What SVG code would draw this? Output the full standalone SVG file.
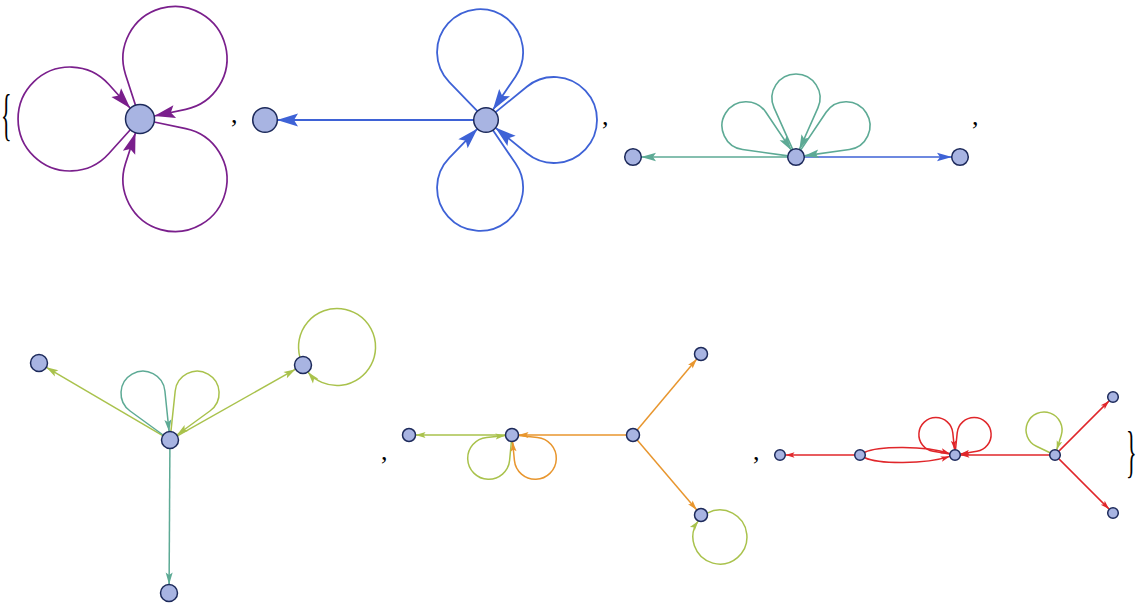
<svg xmlns="http://www.w3.org/2000/svg" width="1140" height="610" viewBox="0 0 1140 610">
<style>
.n{fill:#A8B4E2;stroke:#1D2A5B;stroke-width:1.5}
.e{fill:none}
.pu{stroke:#7A1F8C;stroke-width:1.7}
.bl{stroke:#3E62D6;stroke-width:1.8}
.bl3{stroke:#3E62D6;stroke-width:1.6}
.te3{stroke:#5DAA95;stroke-width:1.6}
.te{stroke:#5DAA95;stroke-width:1.5}
.yg{stroke:#A9C24C;stroke-width:1.5}
.or{stroke:#E8962E;stroke-width:1.5}
.rd{stroke:#E0262A;stroke-width:1.5}
.t{font-family:"Liberation Serif","Times New Roman",serif;fill:#000}
</style>
<defs>
<marker id="aPu" viewBox="-22 -7 23 14" refX="0" refY="0" markerWidth="23" markerHeight="14" markerUnits="userSpaceOnUse" orient="auto"><path d="M0,0 L-21,-6.5 L-17,0 L-21,6.5 Z" fill="#7A1F8C"/></marker>
<marker id="aBl" viewBox="-22 -7 23 14" refX="0" refY="0" markerWidth="23" markerHeight="14" markerUnits="userSpaceOnUse" orient="auto"><path d="M0,0 L-21,-6.5 L-17,0 L-21,6.5 Z" fill="#3E62D6"/></marker>
<marker id="aTe3" viewBox="-16 -5 17 10" refX="0" refY="0" markerWidth="17" markerHeight="10" markerUnits="userSpaceOnUse" orient="auto"><path d="M0,0 L-15,-4.3 L-12,0 L-15,4.3 Z" fill="#5DAA95"/></marker>
<marker id="aBl3" viewBox="-16 -5 17 10" refX="0" refY="0" markerWidth="17" markerHeight="10" markerUnits="userSpaceOnUse" orient="auto"><path d="M0,0 L-15,-4.3 L-12,0 L-15,4.3 Z" fill="#3E62D6"/></marker>
<marker id="aTe4" viewBox="-13 -4 14 8" refX="0" refY="0" markerWidth="14" markerHeight="8" markerUnits="userSpaceOnUse" orient="auto"><path d="M0,0 L-12,-3.5 L-9.5,0 L-12,3.5 Z" fill="#5DAA95"/></marker>
<marker id="aYg4" viewBox="-13 -4 14 8" refX="0" refY="0" markerWidth="14" markerHeight="8" markerUnits="userSpaceOnUse" orient="auto"><path d="M0,0 L-12,-3.5 L-9.5,0 L-12,3.5 Z" fill="#A9C24C"/></marker>
<marker id="aYg5" viewBox="-11 -4 12 8" refX="0" refY="0" markerWidth="12" markerHeight="8" markerUnits="userSpaceOnUse" orient="auto"><path d="M0,0 L-10,-3 L-8,0 L-10,3 Z" fill="#A9C24C"/></marker>
<marker id="aOr5" viewBox="-11 -4 12 8" refX="0" refY="0" markerWidth="12" markerHeight="8" markerUnits="userSpaceOnUse" orient="auto"><path d="M0,0 L-10,-3 L-8,0 L-10,3 Z" fill="#E8962E"/></marker>
<marker id="aRd6" viewBox="-10 -3 11 6" refX="0" refY="0" markerWidth="11" markerHeight="6" markerUnits="userSpaceOnUse" orient="auto"><path d="M0,0 L-9,-2.8 L-7,0 L-9,2.8 Z" fill="#E0262A"/></marker>
<marker id="aYg6" viewBox="-10 -3 11 6" refX="0" refY="0" markerWidth="11" markerHeight="6" markerUnits="userSpaceOnUse" orient="auto"><path d="M0,0 L-9,-2.8 L-7,0 L-9,2.8 Z" fill="#A9C24C"/></marker>
</defs>
<rect width="1140" height="610" fill="#fff"/>
<g id="connectors">
<!-- graph 1 -->
<path class="e pu" marker-end="url(#aPu)" d="M135.5,105.2 L125.5,74.4 A52,52 0 1 1 185.8,109.3 L154.2,116.0"/>
<path class="e pu" marker-end="url(#aPu)" d="M130.3,129.8 L108.7,153.8 A52,52 0 1 1 108.7,84.2 L130.3,108.2"/>
<path class="e pu" marker-end="url(#aPu)" d="M154.2,122.0 L185.8,128.7 A52,52 0 1 1 125.5,163.6 L135.5,132.8"/>
<!-- graph 2 -->
<path class="e bl" marker-end="url(#aBl)" d="M474,120 L277,120"/>
<path class="e bl" marker-end="url(#aBl)" d="M477.6,111.4 L449.3,82.2 A43,43 0 1 1 515.6,76.4 L492.8,110.1"/>
<path class="e bl" marker-end="url(#aBl)" d="M495.3,112.4 L526.8,86.7 A43,43 0 1 1 526.8,153.3 L495.3,127.6"/>
<path class="e bl" marker-end="url(#aBl)" d="M492.8,129.9 L515.6,163.6 A43,43 0 1 1 449.3,157.8 L477.6,128.6"/>
<!-- graph 3 -->
<path class="e te3" marker-end="url(#aTe3)" d="M788,157 L641,157"/>
<path class="e bl3" marker-end="url(#aBl3)" d="M804,157 L952,157"/>
<path class="e te3" marker-end="url(#aTe3)" d="M792.8,149.7 L774.1,107.8 A24,24 0 1 1 817.9,107.8 L799.3,149.7"/>
<path class="e te3" marker-end="url(#aTe3)" d="M788.1,155.9 L742.6,149.5 A24,24 0 1 1 765.9,112.3 L791.5,150.4"/>
<path class="e te3" marker-end="url(#aTe3)" d="M800.5,150.4 L826.1,112.3 A24,24 0 1 1 849.4,149.5 L803.9,155.9"/>
<!-- graph 4 -->
<path class="e yg" marker-end="url(#aYg4)" d="M162.7,435.7 L46.3,367.3"/>
<path class="e yg" marker-end="url(#aYg4)" d="M177.4,435.8 L295.6,369.2"/>
<path class="e te" marker-end="url(#aTe4)" d="M169.9,448.5 L169.1,584.5"/>
<path class="e te" marker-end="url(#aTe4)" d="M163.1,435.0 L130.1,411.0 A22,22 0 1 1 164.9,391.0 L169.1,431.6"/>
<path class="e yg" marker-end="url(#aYg4)" d="M170.9,431.6 L175.2,391.0 A22,22 0 1 1 209.9,411.0 L176.9,435.0"/>
<path class="e yg" marker-end="url(#aYg4)" d="M299.9,357.1 A38.5,38.5 0 1 1 307.8,372.0"/>
<!-- graph 5 -->
<path class="e yg" marker-end="url(#aYg5)" d="M505.5,435 L415.5,435"/>
<path class="e or" marker-end="url(#aOr5)" d="M626.5,435 L518.5,435"/>
<path class="e or" marker-end="url(#aOr5)" d="M637.2,430.0 L696.8,359.0"/>
<path class="e or" marker-end="url(#aOr5)" d="M637.2,440.0 L696.8,510.0"/>
<path class="e yg" marker-end="url(#aYg5)" d="M511.4,441.5 L509.6,460.4 A21,21 0 1 1 486.6,437.4 L505.5,435.6"/>
<path class="e or" marker-end="url(#aOr5)" d="M518.5,435.6 L537.4,437.4 A21,21 0 1 1 514.4,460.4 L512.6,441.5"/>
<path class="e yg" marker-end="url(#aYg5)" d="M707.3,513.2 A27,27 0 1 1 698.3,520.9"/>
<!-- graph 6 -->
<path class="e rd" marker-end="url(#aRd6)" d="M854.5,455 L785.5,455"/>
<path class="e rd" marker-end="url(#aRd6)" d="M864.8,452.3 C878,446 925,445.5 949.7,453.6"/>
<path class="e rd" marker-end="url(#aRd6)" d="M864.8,457.7 C878,464 925,464.5 949.7,456.4"/>
<path class="e rd" marker-end="url(#aRd6)" d="M1049.5,455 L960.5,455"/>
<path class="e rd" marker-end="url(#aRd6)" d="M1058.9,451.1 L1109.1,400.9"/>
<path class="e rd" marker-end="url(#aRd6)" d="M1058.9,458.9 L1109.1,509.1"/>
<path class="e rd" marker-end="url(#aRd6)" d="M949.6,454.1 L933.1,451.3 A17,17 0 1 1 952.8,432.9 L954.5,449.5"/>
<path class="e rd" marker-end="url(#aRd6)" d="M955.5,449.5 L957.2,432.9 A17,17 0 1 1 976.9,451.3 L960.4,454.1"/>
<path class="e yg" marker-end="url(#aYg6)" d="M1050.0,452.7 L1036.4,446.3 A18,18 0 1 1 1061.2,435.5 L1056.7,449.8"/>
</g>
<g id="g1-n1"><circle class="n" cx="140" cy="119" r="14.5"/></g>
<g id="g2-n1"><circle class="n" cx="265" cy="120" r="12.3"/></g>
<g id="g2-n2"><circle class="n" cx="486" cy="120" r="12.3"/></g>
<g id="g3-n1"><circle class="n" cx="633" cy="157" r="8.3"/></g>
<g id="g3-n2"><circle class="n" cx="796" cy="157" r="8.3"/></g>
<g id="g3-n3"><circle class="n" cx="960" cy="157" r="8.3"/></g>
<g id="g4-n1"><circle class="n" cx="170" cy="440" r="8.5"/></g>
<g id="g4-n2"><circle class="n" cx="39" cy="363" r="8.5"/></g>
<g id="g4-n3"><circle class="n" cx="303" cy="365" r="8.5"/></g>
<g id="g4-n4"><circle class="n" cx="169" cy="593" r="8.5"/></g>
<g id="g5-n1"><circle class="n" cx="409" cy="435" r="6.5"/></g>
<g id="g5-n2"><circle class="n" cx="512" cy="435" r="6.5"/></g>
<g id="g5-n3"><circle class="n" cx="633" cy="435" r="6.5"/></g>
<g id="g5-n4"><circle class="n" cx="701" cy="354" r="6.5"/></g>
<g id="g5-n5"><circle class="n" cx="701" cy="515" r="6.5"/></g>
<g id="g6-n1"><circle class="n" cx="780" cy="455" r="5.3"/></g>
<g id="g6-n2"><circle class="n" cx="860" cy="455" r="5.3"/></g>
<g id="g6-n3"><circle class="n" cx="955" cy="455" r="5.3"/></g>
<g id="g6-n4"><circle class="n" cx="1055" cy="455" r="5.3"/></g>
<g id="g6-n5"><circle class="n" cx="1113" cy="397" r="5.3"/></g>
<g id="g6-n6"><circle class="n" cx="1113" cy="513" r="5.3"/></g>
<g id="labels">
<text class="t" font-size="40" transform="translate(1,134.4) scale(0.55,1.45)">{</text>
<text class="t" font-size="40" transform="translate(1126,471.4) scale(0.55,1.45)">}</text>
<text class="t" font-size="26" x="231" y="123">,</text>
<text class="t" font-size="26" x="602" y="125">,</text>
<text class="t" font-size="26" x="972" y="125">,</text>
<text class="t" font-size="26" x="381" y="460">,</text>
<text class="t" font-size="26" x="753" y="460">,</text>
</g>
</svg>
